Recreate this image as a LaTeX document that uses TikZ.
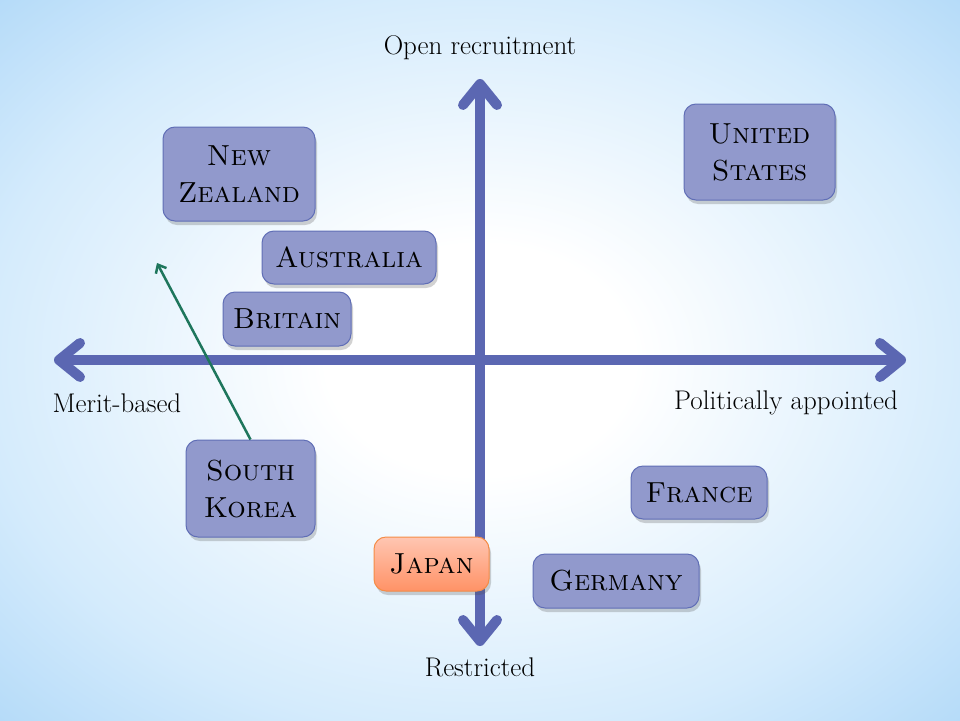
\documentclass[tikz,border=0pt]{standalone}
\usetikzlibrary{arrows.meta,shadows}
\definecolor{axiscol}{RGB}{91,103,178}
\definecolor{boxfill}{RGB}{145,153,204}
\definecolor{boxline}{RGB}{96,110,182}
\definecolor{jtop}{RGB}{255,198,178}
\definecolor{jbot}{RGB}{255,146,102}
\definecolor{jline}{RGB}{245,140,70}
\definecolor{grn}{RGB}{30,118,92}
\definecolor{bgmid}{RGB}{212,235,252}
\definecolor{bgout}{RGB}{160,208,246}
\pgfdeclareradialshading{bgshade}{\pgfpoint{0bp}{0bp}}{color(0bp)=(white);color(8bp)=(white);color(26bp)=(bgmid);color(42bp)=(bgout);color(75bp)=(bgout)}
\begin{document}
\begin{tikzpicture}[x=1pt,y=-1pt,
  country/.style={draw=boxline, fill=boxfill, line width=1pt, rounded corners=12pt,
    drop shadow={shadow xshift=2pt, shadow yshift=-4pt, opacity=0.25, fill=black!70},
    font=\fontsize{29}{37}\selectfont\scshape, align=center, inner sep=0pt, text=black},
  jcountry/.style={country, draw=jline, top color=jtop, bottom color=jbot},
  axisline/.style={draw=axiscol, line width=10pt,
    {Straight Barb[length=21pt,width=34pt,round]}-{Straight Barb[length=21pt,width=34pt,round]}},
  axislabel/.style={font=\fontsize{27}{30}\selectfont, text=black, inner sep=0pt},
  greenarrow/.style={draw=grn, line width=2.5pt, -{Straight Barb[length=7pt,width=12pt]}}
]
\useasboundingbox (0,0) rectangle (960,720);
\shade[shading=bgshade] (0,0) rectangle (960,720);

\coordinate (vtop) at (480,79);
\coordinate (vbot) at (480,646);
\coordinate (hleft) at (54,360);
\coordinate (hright) at (906,360);
\draw[axisline] (hleft) -- (hright);
\draw[axisline] (vbot) -- (vtop);

\node[axislabel] (open) at (480,48) {Open recruitment};
\node[axislabel] (merit) at (117,403) {Merit-based};
\node[axislabel] (pol) at (786,403) {Politically appointed};
\node[axislabel] (restr) at (480,667) {Restricted};

\node[country, minimum width=152pt, minimum height=94pt] (nz) at (239,174) {New\\Zealand};
\node[country, minimum width=174pt, minimum height=53pt] (au) at (349,257.5) {Australia};
\node[country, minimum width=128pt, minimum height=54pt] (br) at (287,319) {Britain};
\node[country, minimum width=151pt, minimum height=96pt] (us) at (759.5,152) {United\\States};
\node[country, minimum width=129pt, minimum height=97pt] (sk) at (250.5,488.5) {South\\Korea};
\node[country, minimum width=136pt, minimum height=53pt] (fr) at (699,492.5) {France};
\node[jcountry, minimum width=115pt, minimum height=54pt] (jp) at (431.5,564) {Japan};
\node[country, minimum width=166pt, minimum height=54pt] (de) at (616,581) {Germany};

\coordinate (gtip) at (157,263);
\draw[greenarrow] (sk.north) -- (gtip);
\end{tikzpicture}
\end{document}
